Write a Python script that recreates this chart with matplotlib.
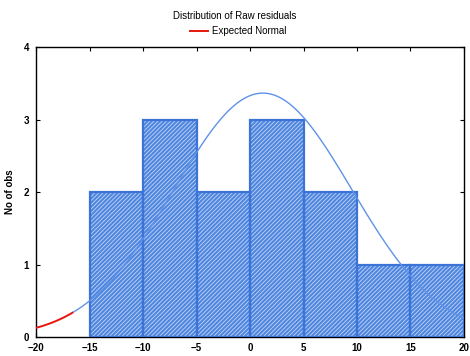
import numpy as np
import matplotlib
matplotlib.use("Agg")
import matplotlib.pyplot as plt

plt.rcParams['font.family'] = ['Liberation Sans', 'DejaVu Sans']

# Histogram of raw residuals (bin edges and counts)
bin_edges = [-15, -10, -5, 0, 5, 10, 15, 20]
counts = [2, 3, 2, 3, 2, 1, 1]

# Expected normal curve parameters
n_obs = 14
resid_mean = 1.2
resid_sd = 8.3

x_ticks = [-20, -15, -10, -5, 0, 5, 10, 15, 20]
y_ticks = [0, 1, 2, 3, 4]

fig = plt.figure(figsize=(4.7, 3.56), dpi=100)
ax = fig.add_axes([0.077, 0.053, 0.910, 0.815])

lefts = bin_edges[:-1]
widths = np.diff(bin_edges)

# Textured fill
plt.rcParams['hatch.linewidth'] = 0.6
ax.bar(lefts, counts, width=widths, align='edge', color='#4f86df',
       edgecolor='#c3d6f5', hatch='////////', linewidth=0, zorder=2)
# Bar outlines
ax.bar(lefts, counts, width=widths, align='edge', fill=False,
       edgecolor='#3b73d6', linewidth=1.6, zorder=3)

# Expected normal curve scaled to counts per bin
bw = widths[0]
xs = np.linspace(-20, 20, 400)
ys = n_obs * bw / (resid_sd * np.sqrt(2 * np.pi)) * np.exp(-0.5 * ((xs - resid_mean) / resid_sd) ** 2)
split = -16.5
ax.plot(xs[xs <= split], ys[xs <= split], color='#e8160c', lw=1.4, zorder=4)
ax.plot(xs[xs >= split], ys[xs >= split], color='#5f92e8', lw=1.0, zorder=4)

ax.set_xlim(-20, 20)
ax.set_ylim(0, 4)
ax.set_xticks(x_ticks)
ax.set_yticks(y_ticks)
ax.tick_params(direction='in', top=True, right=True, length=3, width=0.8,
               labelsize=7)
ax.tick_params(axis='x', pad=4)
ax.tick_params(axis='y', pad=5)
for lab in ax.get_xticklabels() + ax.get_yticklabels():
    lab.set_fontweight('bold')
for s in ax.spines.values():
    s.set_linewidth(1.0)

ax.set_ylabel('No of obs', fontsize=7, fontweight='bold', labelpad=6)

fig.text(0.5, 0.955, 'Distribution of Raw residuals', ha='center', va='center',
         fontsize=7)
fig.lines.append(plt.Line2D([0.404, 0.443], [0.912, 0.912], color='#e8160c',
                            lw=1.4, transform=fig.transFigure))
fig.text(0.451, 0.912, 'Expected Normal', ha='left', va='center', fontsize=7)

fig.savefig('out.png', dpi=100)
